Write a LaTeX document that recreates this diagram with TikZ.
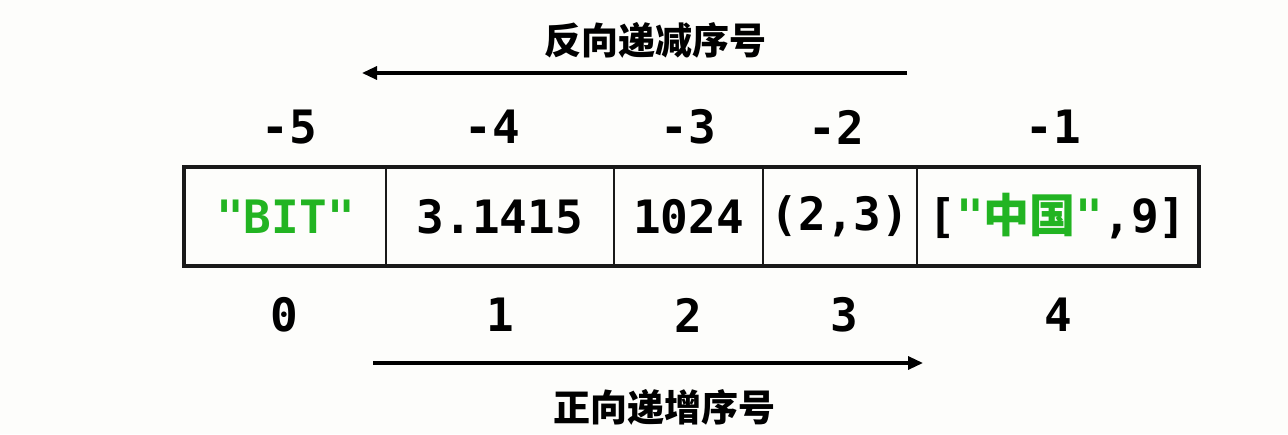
\documentclass[tikz,border=0pt]{standalone}
\usepackage{fontspec}
\newfontfamily\mono{DejaVu Sans Mono}
\newfontfamily\cjk{Noto Sans CJK SC}
\usetikzlibrary{arrows.meta}
\definecolor{txtgreen}{RGB}{34,180,34}
\definecolor{bg}{RGB}{253,253,251}
\begin{document}
\begin{tikzpicture}[x=1pt,y=1pt,
  cell/.style={draw=black!90, line width=2pt, minimum height=97pt, inner sep=0pt, font=\mono\bfseries\fontsize{46}{50}\selectfont},
  idx/.style={inner sep=0pt, font=\mono\bfseries\fontsize{46}{50}\selectfont},
  ttl/.style={inner sep=0pt, font=\cjk\bfseries\fontsize{37}{40}\selectfont},
  arr/.style={line width=3.2pt, -{Triangle[length=15pt,width=13pt]}}]
\fill[bg] (0,0) rectangle (1288,434);
\useasboundingbox (0,0) rectangle (1288,434);
% cells
\node[cell, minimum width=201pt] (c0) at (285.5,217.5) {\textcolor{txtgreen}{"BIT"}};
\node[cell, minimum width=228pt] (c1) at (500,217.5) {3.1415};
\node[cell, minimum width=149pt] (c2) at (688.5,217.5) {1024};
\node[cell, minimum width=154pt] (c3) at (840,217.5) {(2,3)};
\node[cell, minimum width=281pt] (c4) at (1057.5,217.5) {[\textcolor{txtgreen}{"{\cjk\bfseries 中国}"},9]};
\draw[black!90, line width=3.5pt] (c0.north west) rectangle (c4.south east);
% negative indices
\node[idx] (n5) at (289,307) {-5};
\node[idx] (n4) at (492,307) {-4};
\node[idx] (n3) at (688,307) {-3};
\node[idx] (n2) at (836,307) {-2};
\node[idx] (n1) at (1053,307) {-1};
% positive indices
\node[idx] (p0) at (284,119) {0};
\node[idx] (p1) at (500,119) {1};
\node[idx] (p2) at (688,119) {2};
\node[idx] (p3) at (844,119) {3};
\node[idx] (p4) at (1058,119) {4};
% arrows
\coordinate (ra) at (907,361);
\coordinate (rb) at (362,361);
\draw[arr] (ra) -- (rb);
\coordinate (fa) at (373,71);
\coordinate (fb) at (923,71);
\draw[arr] (fa) -- (fb);
% titles
\node[ttl] (t1) at (655,394) {反向递减序号};
\node[ttl] (t2) at (664,27) {正向递增序号};
\end{tikzpicture}
\end{document}
